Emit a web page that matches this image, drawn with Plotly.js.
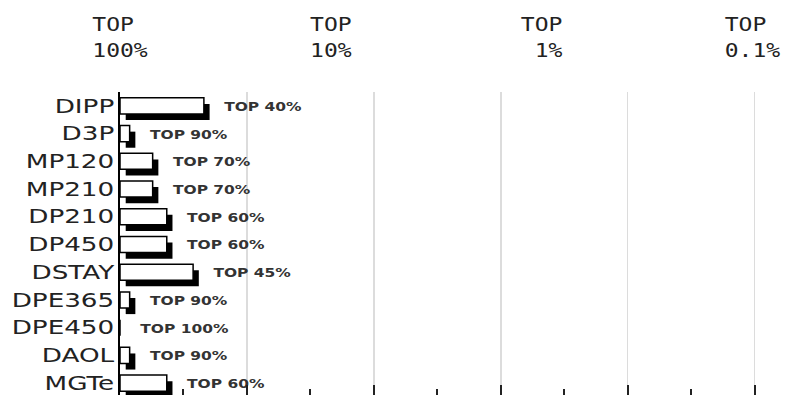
<!DOCTYPE html>
<html>
<head>
<meta charset="utf-8">
<script src="https://cdn.plot.ly/plotly-3.0.1.min.js"></script>
<style>
  html, body { margin: 0; padding: 0; background: #fff; overflow: hidden; }
  #chart { width: 795px; height: 400px; }
</style>
</head>
<body>
<div id="chart"></div>
<script>
// ---- data ----
const categories = ["DIPP", "D3P", "MP120", "MP210", "DP210", "DP450", "DSTAY", "DPE365", "DPE450", "DAOL", "MGTe"];
const topPercent = [40, 90, 70, 70, 60, 60, 45, 90, 100, 90, 60];
const scaleLabelPercents = [100, 10, 1, 0.1];
const scaleLabelTexts = ["TOP\u00A0<br>100%", "TOP<br>10%", "TOP<br>\u00A01%", "TOP\u00A0<br>0.1%"];

// axis unit: number of halvings from "TOP 100%"
const toUnits = p => Math.log2(100 / p);
const barLen = topPercent.map(toUnits);
const labelText = topPercent.map(p => "TOP " + p + "%");

const SHADOW_DX = 0.09, BAR_W = 0.58, SHADOW_DY = 0.22, LABEL_GAP = 0.32;

const shadow = {
  type: "bar", orientation: "h", y: categories, x: barLen,
  base: SHADOW_DX, width: BAR_W, offset: -BAR_W / 2 + SHADOW_DY,
  marker: { color: "#000", line: { width: 0 } }, hoverinfo: "skip", showlegend: false
};
const bars = {
  type: "bar", orientation: "h", y: categories, x: barLen,
  base: 0, width: BAR_W, offset: -BAR_W / 2,
  marker: { color: "#fff", line: { color: "#000", width: 1.5 } }, hoverinfo: "skip", showlegend: false
};
const labels = {
  type: "scatter", mode: "text", y: categories, x: barLen.map(v => v + LABEL_GAP),
  text: labelText, textposition: "middle right", cliponaxis: false,
  textfont: { family: "DejaVu Sans", size: 12, weight: "bold", color: "#333" },
  hoverinfo: "skip", showlegend: false
};
const topAxisDummy = {
  type: "scatter", mode: "markers", x: [0], y: [categories[0]], xaxis: "x2",
  marker: { opacity: 0 }, hoverinfo: "skip", showlegend: false
};

const RANGE = [0, 10.4];
const layout = {
  width: 795, height: 400,
  margin: { l: 120, r: 15, t: 92, b: 3 },
  paper_bgcolor: "#fff", plot_bgcolor: "#fff",
  barmode: "overlay",
  showlegend: false,
  xaxis: {
    range: RANGE, dtick: 2, tick0: 0, showgrid: true, gridcolor: "#dcdcdc", gridwidth: 1.5,
    zeroline: false, showline: false, showticklabels: false,
    ticks: "inside", ticklen: 12, tickwidth: 2, tickcolor: "#222",
    minor: { dtick: 1, tick0: 0, ticks: "inside", ticklen: 8, tickwidth: 2, tickcolor: "#222", showgrid: false }
  },
  xaxis2: {
    overlaying: "x", side: "top", range: RANGE, matches: "x",
    tickmode: "array", tickvals: scaleLabelPercents.map(toUnits), ticktext: scaleLabelTexts,
    showgrid: false, zeroline: false, showline: false, ticks: "",
    ticklabelstandoff: 30,
    tickfont: { family: "DejaVu Sans Mono", size: 20, color: "#222" }
  },
  yaxis: {
    type: "category", range: [10.5, -0.5], showgrid: false, zeroline: false,
    showline: true, linecolor: "#000", linewidth: 2, ticks: "",
    tickfont: { family: "DejaVu Sans", size: 19, color: "#222" }
  }
};

Plotly.newPlot("chart", [shadow, bars, labels, topAxisDummy], layout, { staticPlot: true, displayModeBar: false })
  .then(function (gd) {
    function stretch(sel, s, dy) {
      gd.querySelectorAll(sel).forEach(function (t) {
        var ax = parseFloat(t.getAttribute("x")) || 0;
        var tr = t.getAttribute("transform") || "";
        t.setAttribute("transform", tr + " translate(" + ax + "," + (dy || 0) + ") scale(" + s + ",1) translate(" + (-ax) + ",0)");
      });
    }
    stretch(".ytick text", 1.38);
    stretch(".x2tick text", 1.15);
    stretch(".textpoint text", 1.29, 2);
  });
</script>
</body>
</html>
